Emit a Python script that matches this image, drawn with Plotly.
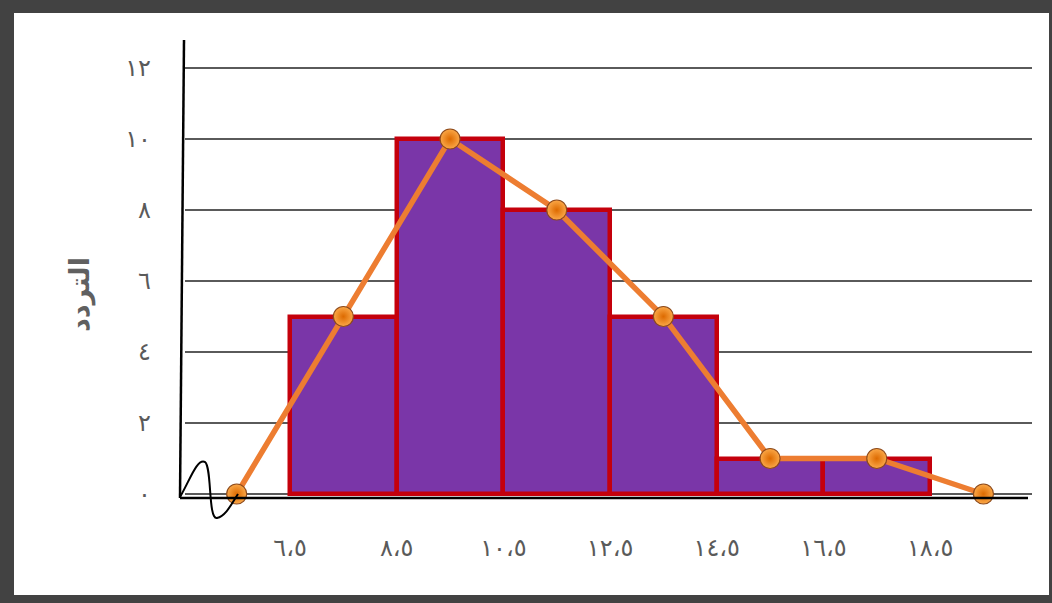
import plotly.graph_objects as go

# ---- data ----
boundaries = [6.5, 8.5, 10.5, 12.5, 14.5, 16.5, 18.5]
frequencies = [5, 10, 8, 5, 1, 1]
midpoints = [5.5, 7.5, 9.5, 11.5, 13.5, 15.5, 17.5, 19.5]
polygon_freq = [0, 5, 10, 8, 5, 1, 1, 0]
x_tick_labels = ["٦،٥", "٨،٥", "١٠،٥", "١٢،٥", "١٤،٥", "١٦،٥", "١٨،٥"]
y_tick_values = [0, 2, 4, 6, 8, 10, 12]
y_tick_labels = ["٠", "٢", "٤", "٦", "٨", "١٠", "١٢"]
y_title = "التردد"

# ---- layout geometry ----
W, H = 1052, 603
L, R, T, B = 185, 20, 40, 103
PW, PH = W - L - R, H - T - B


def px(x):
    return (x - L) / PW


def py(y):
    return (H - B - y) / PH


bar_centers = [(boundaries[i] + boundaries[i + 1]) / 2 for i in range(len(frequencies))]
bar_widths = [boundaries[i + 1] - boundaries[i] for i in range(len(frequencies))]

fig = go.Figure()
fig.add_trace(go.Bar(
    x=bar_centers, y=frequencies, width=bar_widths,
    marker=dict(color="#7A36A8", line=dict(color="#C4000C", width=4.5)),
    showlegend=False,
))
fig.add_trace(go.Scatter(
    x=midpoints, y=polygon_freq, mode="lines+markers",
    line=dict(color="#ED7D31", width=5.5),
    marker=dict(size=20, color="#FBA848",
                gradient=dict(type="radial", color="#DD6A00"),
                line=dict(color="#8E4A1A", width=1.2)),
    showlegend=False, cliponaxis=False,
))

tick_font = dict(family="DejaVu Sans", size=24, color="#5a5a5a")

shapes = [
    # outer frame: white inner panel on dark paper
    dict(type="rect", xref="paper", yref="paper", layer="below",
         x0=px(14), x1=px(1049), y0=py(595), y1=py(13),
         fillcolor="white", line=dict(width=0)),
    # y axis line (slightly tilted)
    dict(type="line", xref="paper", yref="paper",
         x0=px(184), y0=py(40), x1=px(180), y1=py(498),
         line=dict(color="black", width=2.5)),
    # x axis line
    dict(type="line", xref="paper", yref="paper",
         x0=px(180), y0=py(498), x1=px(1028), y1=py(498),
         line=dict(color="black", width=2.5)),
]

# axis break squiggle
pts = [(180, 497), (190, 480), (197, 458), (205, 462),
       (212, 467), (208, 520), (217, 518),
       (226, 516), (232, 503), (238, 494)]
p = [(px(a), py(b)) for a, b in pts]
path = "M {:.5f},{:.5f} C {:.5f},{:.5f} {:.5f},{:.5f} {:.5f},{:.5f} C {:.5f},{:.5f} {:.5f},{:.5f} {:.5f},{:.5f} C {:.5f},{:.5f} {:.5f},{:.5f} {:.5f},{:.5f}".format(
    *[c for pt in p for c in pt])
shapes.append(dict(type="path", xref="paper", yref="paper", path=path,
                   line=dict(color="black", width=2)))

fig.update_layout(
    width=W, height=H,
    margin=dict(l=L, r=R, t=T, b=B),
    paper_bgcolor="#424242",
    plot_bgcolor="rgba(0,0,0,0)",
    bargap=0,
    shapes=shapes,
    annotations=[dict(
        text=y_title, xref="paper", yref="paper",
        x=px(80), y=py(295), xanchor="center", yanchor="middle",
        showarrow=False, textangle=-90,
        font=dict(family="DejaVu Sans", size=27, color="#606060", weight="bold"),
    )],
    xaxis=dict(
        range=[4.531, 20.41], tickvals=boundaries, ticktext=x_tick_labels,
        showgrid=False, zeroline=False, showline=False, ticks="",
        tickfont=tick_font, ticklabelstandoff=31,
    ),
    yaxis=dict(
        range=[-0.169, 12.789], tickvals=y_tick_values, ticktext=y_tick_labels,
        showgrid=True, gridcolor="#5a5a5a", gridwidth=2,
        zeroline=False, showline=False, ticks="",
        tickfont=tick_font, ticklabelstandoff=33,
    ),
)

fig.write_html("out.html", config={"displayModeBar": False},
               post_script="document.body.style.margin='0';")
